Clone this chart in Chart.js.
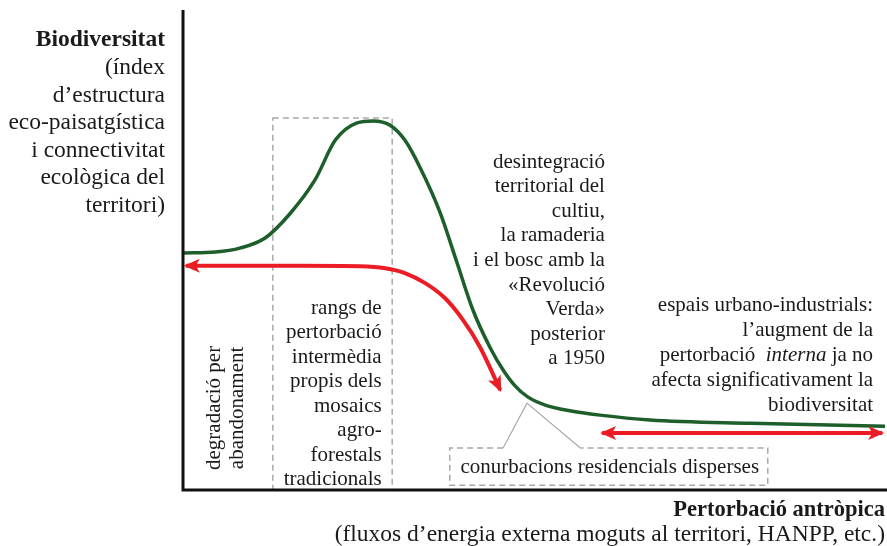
<!DOCTYPE html>
<html>
<head>
<meta charset="utf-8">
<script src="https://cdn.jsdelivr.net/npm/chart.js@4"></script>
<style>
  body { margin: 0; background: #fff; }
  canvas { display: block; }
</style>
</head>
<body>
<canvas id="grafic" width="887" height="546"></canvas>
<script>
// corba de biodiversitat (x = pertorbació, y = biodiversitat, unitats 0-100)
var corbaX = [0.1, 4.6, 8.1, 11.7, 15.2, 18.8, 21.7, 24.8, 27.1, 29.5, 31.6, 33.8, 36.6, 39.0, 41.3, 43.7, 45.6, 47.3, 49.1, 51.6, 55.1, 59.4, 66.5, 80.8, 100];
var corbaY = [49.4, 49.6, 50.4, 52.5, 57.5, 64.6, 72.9, 76.5, 76.9, 76.0, 72.9, 67.1, 57.9, 47.5, 37.5, 29.8, 25.0, 21.7, 19.4, 17.7, 16.5, 15.6, 14.6, 13.9, 13.3];

// fletxa vermella corba (abandonament <-> intensificació)
var fletxa1X = [0.4, 16.7, 25.2, 28.8, 31.6, 34.5, 37.3, 39.7, 42.3, 45.2];
var fletxa1Y = [46.7, 46.7, 46.6, 46.2, 45.2, 43.1, 40.0, 35.8, 29.8, 20.8];

// fletxa doble dels espais urbano-industrials
var fletxa2X = [59.7, 99.6];
var fletxa2Y = [11.9, 11.9];

// rectangles discontinus [x0, x1, y0, y1]
var rangsBox = [12.8, 29.8, 0, 77.5];
var conurbBox = [38.0, 83.3, 1.0, 8.75];
var conurbPunta = [45.6, 49.0, 56.6, 18.1]; // base esq, vèrtex x, base dreta, vèrtex y

var titolY = ['Biodiversitat', '(índex', 'd\u2019estructura', 'eco-paisatgística', 'i connectivitat', 'ecològica del', 'territori)'];
var titolX = ['Pertorbació antròpica', '(fluxos d\u2019energia externa moguts al territori, HANPP, etc.)'];
var textRangs = ['rangs de', 'pertorbació', 'intermèdia', 'propis dels', 'mosaics', 'agro-', 'forestals', 'tradicionals'];
var textDegradacio = ['degradació per', 'abandonament'];
var textDesintegracio = ['desintegració', 'territorial del', 'cultiu,', 'la ramaderia', 'i el bosc amb la', '«Revolució', 'Verda»', 'posterior', 'a 1950'];
var textUrba = ['espais urbano-industrials:', 'l\u2019augment de la', 'pertorbació  _interna_ ja no', 'afecta significativament la', 'biodiversitat'];
var textConurb = 'conurbacions residencials disperses';

function punts(xs, ys) {
    return xs.map(function (x, i) { return { x: x, y: ys[i] }; });
}

var VERD = '#1d5e2a';
var VERMELL = '#ec1c24';
var GRIS = '#a8a8a8';
var SERIF = '"Liberation Serif", "DejaVu Serif", serif';

function escriuLinia(ctx, linia, xDreta, y, mida, negreta) {
    var trossos = linia.split('_');
    var amples = trossos.map(function (t, i) {
        ctx.font = (i % 2 ? 'italic ' : '') + (negreta ? 'bold ' : '') + mida + 'px ' + SERIF;
        return ctx.measureText(t).width;
    });
    var total = amples.reduce(function (a, b) { return a + b; }, 0);
    var x = xDreta - total;
    trossos.forEach(function (t, i) {
        ctx.font = (i % 2 ? 'italic ' : '') + (negreta ? 'bold ' : '') + mida + 'px ' + SERIF;
        ctx.textAlign = 'left';
        ctx.fillText(t, x, y);
        x += amples[i];
    });
}

function escriuBloc(ctx, linies, xDreta, y0, interlineat, mida) {
    linies.forEach(function (l, i) {
        escriuLinia(ctx, l, xDreta, y0 + i * interlineat, mida, false);
    });
}

function puntaFletxa(ctx, x, y, dx, dy) {
    var a = Math.atan2(dy, dx);
    var llarg = 14, ample = 7;
    ctx.save();
    ctx.translate(x, y);
    ctx.rotate(a);
    ctx.beginPath();
    ctx.moveTo(2, 0);
    ctx.lineTo(-llarg, -ample);
    ctx.lineTo(-llarg + 4, 0);
    ctx.lineTo(-llarg, ample);
    ctx.closePath();
    ctx.fillStyle = VERMELL;
    ctx.fill();
    ctx.restore();
}

var decoracio = {
    id: 'decoracio',
    beforeDatasetsDraw: function (chart) {
        var ctx = chart.ctx, sx = chart.scales.x, sy = chart.scales.y;
        ctx.save();
        ctx.strokeStyle = GRIS;
        ctx.lineWidth = 1.5;
        ctx.setLineDash([6, 4]);
        // rang de pertorbació intermèdia
        ctx.strokeRect(sx.getPixelForValue(rangsBox[0]), sy.getPixelForValue(rangsBox[3]),
            sx.getPixelForValue(rangsBox[1]) - sx.getPixelForValue(rangsBox[0]),
            sy.getPixelForValue(rangsBox[2]) - sy.getPixelForValue(rangsBox[3]));
        // caixa conurbacions amb la punta cap a la corba
        var x0 = sx.getPixelForValue(conurbBox[0]), x1 = sx.getPixelForValue(conurbBox[1]);
        var yb = sy.getPixelForValue(conurbBox[2]), yt = sy.getPixelForValue(conurbBox[3]);
        ctx.beginPath();
        ctx.moveTo(sx.getPixelForValue(conurbPunta[0]), yt);
        ctx.lineTo(x0, yt);
        ctx.lineTo(x0, yb);
        ctx.lineTo(x1, yb);
        ctx.lineTo(x1, yt);
        ctx.lineTo(sx.getPixelForValue(conurbPunta[2]), yt);
        ctx.stroke();
        ctx.setLineDash([]);
        ctx.lineWidth = 1.2;
        ctx.beginPath();
        ctx.moveTo(sx.getPixelForValue(conurbPunta[0]), yt);
        ctx.lineTo(sx.getPixelForValue(conurbPunta[1]), sy.getPixelForValue(conurbPunta[3]));
        ctx.lineTo(sx.getPixelForValue(conurbPunta[2]), yt);
        ctx.stroke();
        ctx.restore();
    },
    afterDatasetsDraw: function (chart) {
        var ctx = chart.ctx, sx = chart.scales.x, sy = chart.scales.y, area = chart.chartArea;
        ctx.save();
        // eixos
        ctx.strokeStyle = '#111';
        ctx.lineWidth = 3;
        ctx.beginPath();
        ctx.moveTo(area.left, area.top);
        ctx.lineTo(area.left, area.bottom);
        ctx.lineTo(chart.width, area.bottom);
        ctx.stroke();

        // puntes de fletxa
        var p1 = chart.getDatasetMeta(1).data, p2 = chart.getDatasetMeta(2).data;
        var n = p1.length - 1;
        puntaFletxa(ctx, p1[0].x, p1[0].y, p1[0].x - p1[1].x, p1[0].y - p1[1].y);
        puntaFletxa(ctx, p1[n].x, p1[n].y, p1[n].x - p1[n - 1].x, p1[n].y - p1[n - 1].y);
        puntaFletxa(ctx, p2[0].x, p2[0].y, -1, 0);
        puntaFletxa(ctx, p2[1].x, p2[1].y, 1, 0);

        // textos
        ctx.fillStyle = '#1a1a1a';
        ctx.textBaseline = 'middle';
        escriuLinia(ctx, titolY[0], area.left - 18, 40, 23.5, true);
        escriuBloc(ctx, titolY.slice(1), area.left - 18, 68, 27.5, 23.5);
        escriuLinia(ctx, titolX[0], area.right, 510, 22.5, true);
        escriuLinia(ctx, titolX[1], area.right, 535, 23.5, false);

        escriuBloc(ctx, textRangs, sx.getPixelForValue(28.3), sy.getPixelForValue(37.9), 24.5, 21);
        escriuBloc(ctx, textDesintegracio, sx.getPixelForValue(60.1), sy.getPixelForValue(68.3), 24.6, 21);
        escriuBloc(ctx, textUrba, sx.getPixelForValue(98.3), sy.getPixelForValue(38.5), 25, 21);

        ctx.font = '21px ' + SERIF;
        ctx.textAlign = 'center';
        ctx.fillText(textConurb, sx.getPixelForValue(60.8), sy.getPixelForValue(4.6));

        ctx.translate(sx.getPixelForValue(6.0), sy.getPixelForValue(17.1));
        ctx.rotate(-Math.PI / 2);
        ctx.fillText(textDegradacio[0], 0, -11);
        ctx.fillText(textDegradacio[1], 0, 12);
        ctx.restore();
    }
};

var ctx = document.getElementById('grafic').getContext('2d');
var grafic = new Chart(ctx, {
    type: 'line',
    data: {
        datasets: [{
            label: 'Biodiversitat',
            data: punts(corbaX, corbaY),
            borderColor: VERD,
            borderWidth: 3.5,
            cubicInterpolationMode: 'monotone',
            pointRadius: 0
        }, {
            label: 'Abandonament / intensificació',
            data: punts(fletxa1X, fletxa1Y),
            borderColor: VERMELL,
            borderWidth: 4,
            cubicInterpolationMode: 'monotone',
            pointRadius: 0
        }, {
            label: 'Espais urbano-industrials',
            data: punts(fletxa2X, fletxa2Y),
            borderColor: VERMELL,
            borderWidth: 4,
            pointRadius: 0
        }]
    },
    options: {
        responsive: false,
        animation: false,
        layout: { padding: { left: 183, right: 2, top: 10, bottom: 56 } },
        plugins: { legend: { display: false }, tooltip: { enabled: false } },
        scales: {
            x: { type: 'linear', min: 0, max: 100, display: false },
            y: { type: 'linear', min: 0, max: 100, display: false }
        }
    },
    plugins: [decoracio]
});
</script>
</body>
</html>
